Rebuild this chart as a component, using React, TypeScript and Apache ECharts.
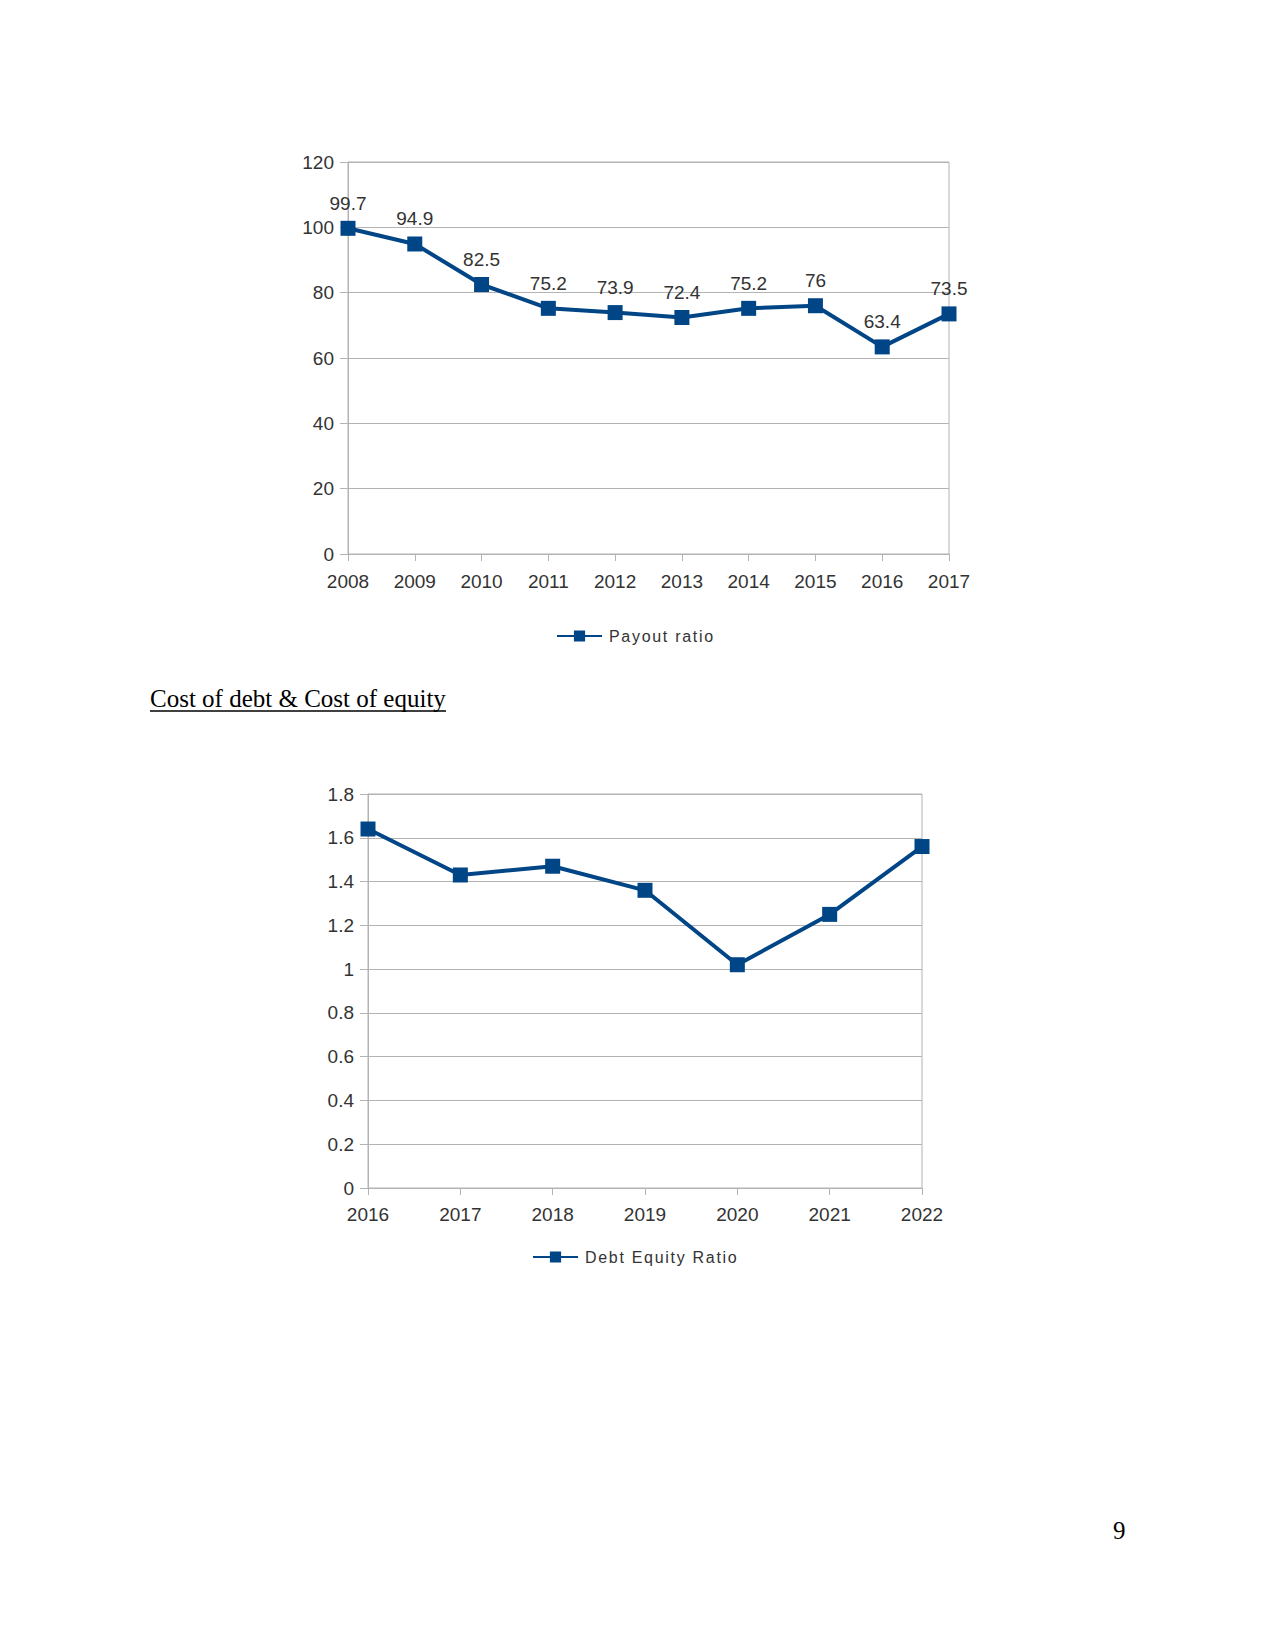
import React, { useEffect, useRef } from "react";
import * as echarts from "echarts";

const payoutYears = ["2008", "2009", "2010", "2011", "2012", "2013", "2014", "2015", "2016", "2017"];
const payoutRatio = [99.7, 94.9, 82.5, 75.2, 73.9, 72.4, 75.2, 76, 63.4, 73.5];
const payoutAxis = { min: 0, max: 120, interval: 20 };

const deYears = ["2016", "2017", "2018", "2019", "2020", "2021", "2022"];
const deRatio = [1.64, 1.43, 1.47, 1.36, 1.02, 1.25, 1.56];
const deAxis = { min: 0, max: 1.8, interval: 0.2 };

const headingText = "Cost of debt & Cost of equity";
const pageNumber = "9";
const legendNames = ["Payout ratio", "Debt Equity Ratio"];

const BLUE = "#004586";
const GRID = "#b3b3b3";
const TXT = "#333333";
const SANS = "'Liberation Sans', Arial, sans-serif";
const SERIF = "'Liberation Serif', 'Times New Roman', serif";

function xAxisCfg(gridIndex: number, data: string[], margin: number) {
  return {
    type: "category",
    gridIndex,
    data,
    boundaryGap: false,
    axisLine: { show: true, lineStyle: { color: GRID, width: 1 } },
    axisTick: { show: true, length: 7, interval: 0, lineStyle: { color: GRID } },
    axisLabel: { interval: 0, color: TXT, fontSize: 19, fontFamily: SANS, margin },
    splitLine: { show: false },
  };
}

function yAxisCfg(gridIndex: number, r: { min: number; max: number; interval: number }) {
  return {
    type: "value",
    gridIndex,
    min: r.min,
    max: r.max,
    interval: r.interval,
    axisLine: { show: true, lineStyle: { color: GRID, width: 1 } },
    axisTick: { show: true, length: 8, lineStyle: { color: GRID } },
    axisLabel: { color: TXT, fontSize: 19, fontFamily: SANS, margin: 14 },
    splitLine: { show: true, lineStyle: { color: GRID, width: 1 } },
  };
}

function legendCfg(name: string, left: number, top: number) {
  return {
    data: [name],
    left,
    top,
    padding: 0,
    itemGap: 0,
    itemWidth: 45,
    itemHeight: 14,
    selectedMode: false,
    textStyle: { fontSize: 16, color: TXT, fontFamily: SANS, padding: [0, 0, 0, 2] },
  };
}

export default function App() {
  const ref = useRef<HTMLDivElement>(null);

  useEffect(() => {
    if (!ref.current) return;
    const chart = echarts.init(ref.current, undefined, { renderer: "svg" });
    chart.setOption({
      animation: false,
      backgroundColor: "#ffffff",
      grid: [
        { left: 348, top: 162, width: 601, height: 392, show: true, borderColor: GRID, borderWidth: 1 },
        { left: 368, top: 794, width: 554, height: 394, show: true, borderColor: GRID, borderWidth: 1 },
      ],
      xAxis: [xAxisCfg(0, payoutYears, 18), xAxisCfg(1, deYears, 17)],
      yAxis: [yAxisCfg(0, payoutAxis), yAxisCfg(1, deAxis)],
      legend: [legendCfg(legendNames[0], 556, 628), legendCfg(legendNames[1], 532, 1249)],
      series: [
        {
          name: legendNames[0],
          type: "line",
          xAxisIndex: 0,
          yAxisIndex: 0,
          data: payoutRatio,
          symbol: "rect",
          symbolSize: 15,
          lineStyle: { color: BLUE, width: 4 },
          itemStyle: { color: BLUE },
          label: { show: true, position: "top", distance: 8, color: TXT, fontSize: 19, fontFamily: SANS },
        },
        {
          name: legendNames[1],
          type: "line",
          xAxisIndex: 1,
          yAxisIndex: 1,
          data: deRatio,
          symbol: "rect",
          symbolSize: 15,
          lineStyle: { color: BLUE, width: 4 },
          itemStyle: { color: BLUE },
          label: { show: false },
        },
      ],
      graphic: [
        {
          type: "text",
          left: 150,
          top: 686,
          style: { text: headingText, fill: "#000", font: `25px ${SERIF}` },
        },
        {
          type: "line",
          shape: { x1: 150, y1: 711, x2: 446, y2: 711 },
          style: { stroke: "#000", lineWidth: 1.3 },
        },
        {
          type: "text",
          left: 1113,
          top: 1518,
          style: { text: pageNumber, fill: "#000", font: `25px ${SERIF}` },
        },
      ],
    });
    // legend texts in the reference are letter-spaced
    const texts = ref.current.querySelectorAll("text");
    texts.forEach((t) => {
      if (legendNames.includes((t.textContent || "").trim())) {
        t.setAttribute("letter-spacing", "1.7");
      }
    });
    return () => chart.dispose();
  }, []);

  return (
    <div
      ref={ref}
      style={{ position: "absolute", left: 0, top: 0, width: 1275, height: 1650, background: "#fff" }}
    />
  );
}
